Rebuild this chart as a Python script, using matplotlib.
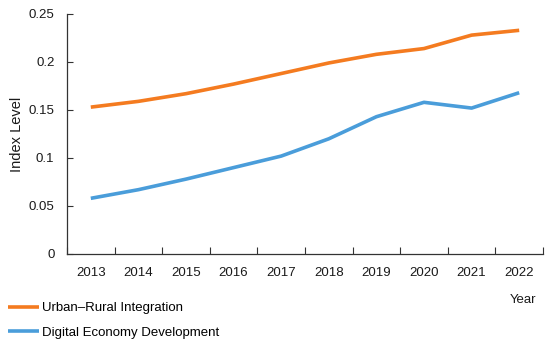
import matplotlib
matplotlib.use("Agg")
import matplotlib.pyplot as plt
import numpy as np

years = ["2013", "2014", "2015", "2016", "2017", "2018", "2019", "2020", "2021", "2022"]
urban_rural = [0.153, 0.159, 0.167, 0.177, 0.188, 0.199, 0.208, 0.214, 0.228, 0.233]
digital_economy = [0.058, 0.067, 0.078, 0.090, 0.102, 0.120, 0.143, 0.158, 0.152, 0.168]
yticks = [0, 0.05, 0.1, 0.15, 0.2, 0.25]
ytick_labels = ["0", "0.05", "0.1", "0.15", "0.2", "0.25"]

plt.rcParams['font.family'] = ['Liberation Sans', 'DejaVu Sans']
FS = 9.5
TC = "#1a1a1a"

fig = plt.figure(figsize=(5.5, 3.43), dpi=100)
ax = fig.add_axes([67/550, 1 - 254/343, (543 - 67)/550, (254 - 14)/343])

x = np.arange(len(years))
l1, = ax.plot(x, urban_rural, color="#F47B20", lw=2.6, solid_capstyle="butt")
l2, = ax.plot(x, digital_economy, color="#4A9DDA", lw=2.6, solid_capstyle="butt")

ax.set_xlim(-0.5, len(years) - 0.5)
ax.set_ylim(0, 0.25)
ax.set_yticks(yticks)
ax.set_yticklabels(ytick_labels, fontsize=FS, color=TC)
ax.set_xticks(np.arange(-0.5, len(years), 1.0))
ax.set_xticklabels([])
ax.set_xticks(x, minor=True)
ax.set_xticklabels(years, minor=True, fontsize=FS, color=TC)
ax.tick_params(axis="x", which="major", direction="in", length=5, width=0.8, color="#333333")
ax.tick_params(axis="x", which="minor", length=0, pad=9)
ax.tick_params(axis="y", direction="in", length=4, width=0.8, color="#333333", pad=9)

for s in ["top", "right"]:
    ax.spines[s].set_visible(False)
for s in ["left", "bottom"]:
    ax.spines[s].set_color("#333333")
    ax.spines[s].set_linewidth(0.9)

ax.set_ylabel("Index Level", fontsize=10.5, color=TC, labelpad=3)
fig.text(523/550, 1 - 300/343, "Year", fontsize=FS, color=TC, ha="center", va="center")

fig.legend([l1, l2], ["Urban\u2013Rural Integration", "Digital Economy Development"],
           loc="upper left", bbox_to_anchor=(8/550, 1 - 302/343), frameon=False,
           fontsize=FS, handlelength=2.35, handletextpad=0.22, labelspacing=0.95,
           borderaxespad=0, borderpad=0)

fig.savefig("out.png", dpi=100)
